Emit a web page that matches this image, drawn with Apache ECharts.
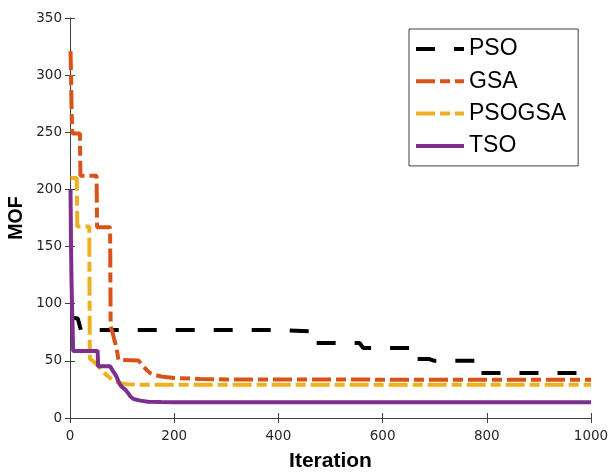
<!DOCTYPE html>
<html>
<head>
<meta charset="utf-8">
<script src="https://cdn.jsdelivr.net/npm/echarts@6/dist/echarts.min.js"></script>
<style>
  html, body { margin: 0; padding: 0; background: #fff; }
  #chart { width: 610px; height: 474px; }
</style>
</head>
<body>
<div id="chart"></div>
<script>
// ---- data ----
const seriesNames = ['PSO', 'GSA', 'PSOGSA', 'TSO'];
const xTicks = [0, 200, 400, 600, 800, 1000];
const yTicks = [0, 50, 100, 150, 200, 250, 300, 350];

const psoIter = [1, 15, 19, 21, 400, 401, 465, 466, 556, 560, 563, 660, 661, 690, 698, 785, 786, 1000];
const psoMOF  = [88, 87, 80, 77, 77, 75.7, 75.7, 65.6, 65.6, 63, 61.2, 61.2, 51.6, 51.6, 50.2, 50.2, 39.4, 39.4];

const gsaIter = [1, 2, 3, 4, 5, 19, 20, 51, 52, 77, 78, 82, 89, 93, 131, 140, 147, 155, 165, 175, 200, 250, 300, 1000];
const gsaMOF  = [321, 300, 270, 252, 249, 249, 212, 212, 167, 167, 80, 74, 62, 50.8, 50.4, 46, 42, 39, 37.5, 36.3, 35, 34.2, 33.7, 33.4];

const psogsaIter = [1, 13, 14, 37, 38, 45, 52, 58, 64, 70, 77, 85, 96, 110, 130, 1000];
const psogsaMOF  = [210, 210, 167.5, 167.5, 52, 49.6, 46.5, 43.5, 40.5, 37.5, 35, 32.5, 30.5, 29.5, 29.1, 29.0];

const tsoIter = [1, 2, 3, 4, 5, 6, 53, 54, 77, 80, 83, 87, 90, 93, 96, 100, 106, 112, 116, 122, 135, 150, 175, 200, 1000];
const tsoMOF  = [200, 150, 118, 95, 80, 58.7, 58.7, 45.3, 45.3, 43, 40.8, 38, 35.5, 32, 29.2, 27, 24.9, 21.5, 18.8, 16.6, 15.2, 14.3, 13.9, 13.8, 13.8];

// ---- build chart ----
function pairs(xs, ys) { return xs.map((x, i) => [x, ys[i]]); }
const colors = ['#000000', '#D95319', '#EDB120', '#7E2F8E'];
const dashes = [[19, 19], [19, 5, 10, 5], [19, 5, 10, 5], 'solid'];
const dataSets = [pairs(psoIter, psoMOF), pairs(gsaIter, gsaMOF), pairs(psogsaIter, psogsaMOF), pairs(tsoIter, tsoMOF)];

const tickFont = { fontFamily: 'DejaVu Sans', fontSize: 13.5, color: '#262626' };
const axisLineStyle = { color: '#404040', width: 1 };
const plainNum = v => String(v);

const chart = echarts.init(document.getElementById('chart'), null, { renderer: 'canvas' });
chart.setOption({
  animation: false,
  backgroundColor: '#ffffff',
  grid: { left: 70, right: 19, top: 18, bottom: 56, containLabel: false, outerBoundsMode: 'none' },
  xAxis: [
    {
      type: 'value', min: xTicks[0], max: xTicks[xTicks.length - 1], interval: xTicks[1] - xTicks[0],
      position: 'bottom',
      name: 'Iteration', nameLocation: 'middle', nameGap: 33, nameMoveOverlap: false,
      nameTextStyle: { fontFamily: 'Liberation Sans', fontWeight: 'bold', fontSize: 21, color: '#000' },
      axisLine: { show: true, lineStyle: axisLineStyle },
      axisTick: { show: true, inside: true, length: 5, lineStyle: axisLineStyle },
      axisLabel: Object.assign({ margin: 11, formatter: plainNum }, tickFont),
      splitLine: { show: false }
    },
    {
      type: 'value', min: xTicks[0], max: xTicks[xTicks.length - 1], interval: xTicks[1] - xTicks[0],
      position: 'top',
      axisLine: { show: true, lineStyle: axisLineStyle },
      axisTick: { show: true, inside: true, length: 5, lineStyle: axisLineStyle },
      axisLabel: { show: false },
      splitLine: { show: false }
    }
  ],
  yAxis: [
    {
      type: 'value', min: yTicks[0], max: yTicks[yTicks.length - 1], interval: yTicks[1] - yTicks[0],
      position: 'left',
      name: 'MOF', nameLocation: 'middle', nameGap: 43, nameMoveOverlap: false,
      nameTextStyle: { fontFamily: 'Liberation Sans', fontWeight: 'bold', fontSize: 19.5, color: '#000' },
      axisLine: { show: true, lineStyle: axisLineStyle },
      axisTick: { show: true, inside: true, length: 5, lineStyle: axisLineStyle },
      axisLabel: Object.assign({ margin: 8, formatter: plainNum }, tickFont),
      splitLine: { show: false }
    },
    {
      type: 'value', min: yTicks[0], max: yTicks[yTicks.length - 1], interval: yTicks[1] - yTicks[0],
      position: 'right',
      axisLine: { show: true, lineStyle: axisLineStyle },
      axisTick: { show: true, inside: true, length: 5, lineStyle: axisLineStyle },
      axisLabel: { show: false },
      splitLine: { show: false }
    }
  ],
  legend: {
    orient: 'vertical',
    left: 409, top: 29,
    padding: [8, 12, 8, 5],
    itemWidth: 48, itemHeight: 12, itemGap: 8.3,
    backgroundColor: '#ffffff',
    borderColor: '#404040', borderWidth: 1,
    textStyle: { fontFamily: 'Liberation Sans', fontSize: 23, color: '#000', lineHeight: 24 },
    lineStyle: { width: 4 },
    itemStyle: { opacity: 0, borderWidth: 0 },
    data: seriesNames
  },
  series: seriesNames.map((name, i) => ({
    name: name,
    type: 'line',
    xAxisIndex: 0, yAxisIndex: 0,
    data: dataSets[i],
    symbol: 'none',
    clip: false,
    lineStyle: { color: colors[i], width: 4, type: dashes[i] },
    itemStyle: { color: colors[i] },
    emphasis: { disabled: true }
  }))
});
</script>
</body>
</html>
